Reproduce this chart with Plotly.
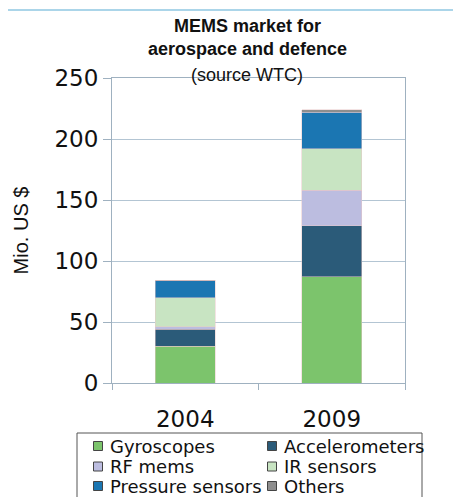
import plotly.graph_objects as go

years = ["2004", "2009"]
series_names = ["Gyroscopes", "Accelerometers", "RF mems", "IR sensors", "Pressure sensors", "Others"]
gyroscopes = [30, 87]
accelerometers = [14, 42]
rf_mems = [2, 29]
ir_sensors = [24, 34]
pressure_sensors = [14, 30]
others = [0.3, 2]
colors = ["#7cc46c", "#2b5b79", "#bcbde0", "#c8e4c2", "#1b76b2", "#8e8e8e"]

values = [gyroscopes, accelerometers, rf_mems, ir_sensors, pressure_sensors, others]

fig = go.Figure()
for name, vals, col in zip(series_names, values, colors):
    fig.add_trace(go.Bar(
        x=years, y=vals, name=name, showlegend=False,
        marker=dict(color=col, line=dict(width=0.5, color="#e8c8c8")),
    ))

OFF = 8  # page body margin
W, H = 461 - OFF, 497 - OFF
L, R, T, B = 104, 56, 70, 114
pw, ph = W - L - R, H - T - B

def px(x):  # x in screen pixels -> paper
    return (x - OFF - L) / pw

def py(y):  # y in screen pixels -> paper
    return (H - B - (y - OFF)) / ph

axis_col = "#9fb1c0"
grid_col = "#b3c5d3"
txt = "#111"

shapes = [
    dict(type="line", xref="paper", yref="paper", x0=px(-10), x1=px(470), y0=py(10), y1=py(10),
         line=dict(color="#8fc7e2", width=1.5)),
    dict(type="rect", xref="paper", yref="paper", x0=px(77), x1=px(422), y0=py(433), y1=py(510),
         line=dict(color="#555", width=1), fillcolor="rgba(0,0,0,0)"),
]
title_font = dict(family="Liberation Sans", size=18, color=txt)
annotations = [
    dict(text="<b>MEMS market for</b>", x=px(247), y=py(26), xref="paper", yref="paper",
         xanchor="center", yanchor="middle", showarrow=False, font=title_font),
    dict(text="<b>aerospace and defence</b>", x=px(247), y=py(49), xref="paper", yref="paper",
         xanchor="center", yanchor="middle", showarrow=False, font=title_font),
    dict(text="(source WTC)", x=px(247), y=py(75), xref="paper", yref="paper",
         xanchor="center", yanchor="middle", showarrow=False, font=title_font),
]

# manual two-column legend
col_x = [98, 272]
row_y = [446, 466.5, 486]
for i, (name, col) in enumerate(zip(series_names, colors)):
    cx = col_x[i % 2]
    cy = row_y[i // 2]
    shapes.append(dict(type="rect", xref="paper", yref="paper",
                       x0=px(cx - 4.5), x1=px(cx + 4.5), y0=py(cy - 4.5), y1=py(cy + 4.5),
                       fillcolor=col, line=dict(color="#444", width=1)))
    annotations.append(dict(text=name, x=px(cx + 10), y=py(cy), xref="paper", yref="paper",
                            xanchor="left", yanchor="middle", showarrow=False,
                            font=dict(family="DejaVu Sans", size=18, color=txt)))

fig.update_layout(
    width=W, height=H,
    margin=dict(l=L, r=R, t=T, b=B, autoexpand=False),
    paper_bgcolor="white", plot_bgcolor="white",
    barmode="stack", bargap=0.59,
    showlegend=False,
    font=dict(family="DejaVu Sans", color=txt),
    xaxis=dict(
        type="category", showline=True, linecolor=axis_col, mirror=True,
        ticks="outside", tickson="boundaries", ticklen=6, tickcolor=axis_col,
        tickfont=dict(family="DejaVu Sans", size=23, color=txt),
        ticklabelstandoff=15,
        showgrid=False, zeroline=False,
    ),
    yaxis=dict(
        range=[0, 250], dtick=50, showline=True, linecolor=axis_col, mirror=True,
        ticks="outside", ticklen=8, tickcolor=axis_col,
        gridcolor=grid_col, gridwidth=1, zeroline=False,
        tickfont=dict(family="DejaVu Sans", size=23, color=txt),
        title=dict(text="Mio. US $", font=dict(family="Liberation Sans", size=20, color=txt), standoff=20),
    ),
    shapes=shapes,
    annotations=annotations,
)

fig.write_html("out.html")
